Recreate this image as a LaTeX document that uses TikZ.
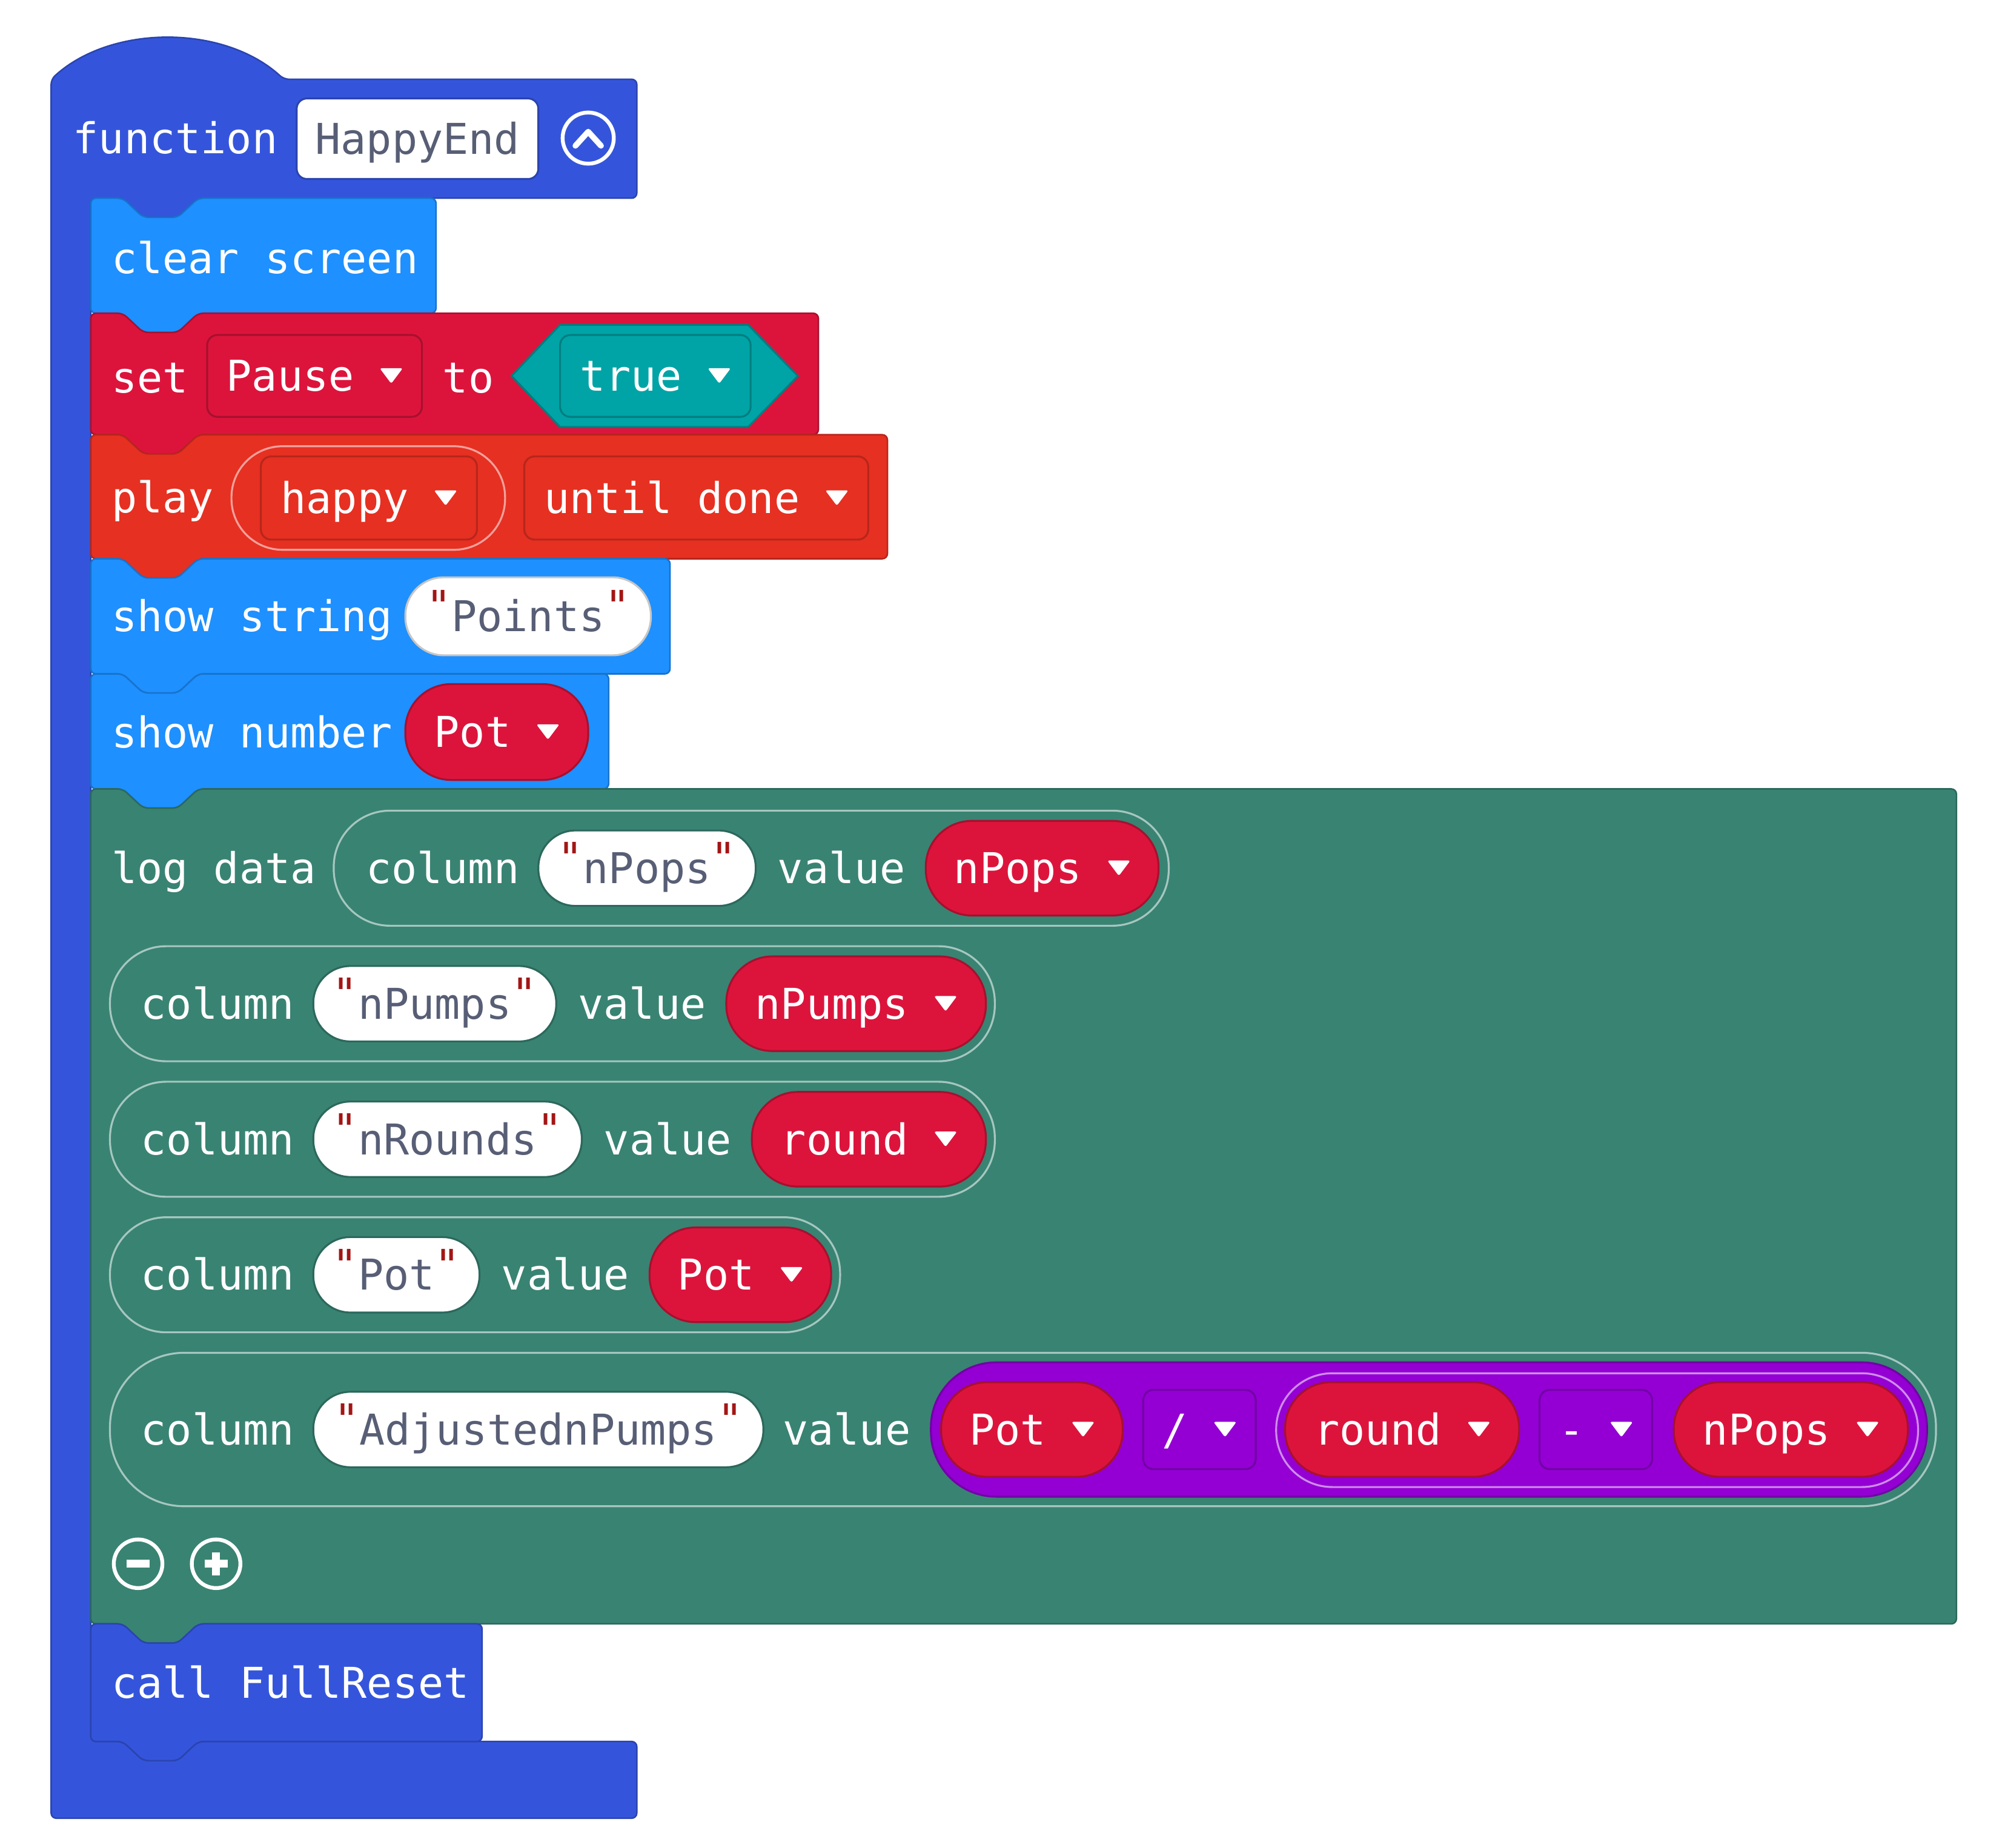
\documentclass[tikz,border=0pt]{standalone}
\usepackage{fontspec}
\usepackage{tikz}
\usepackage{xcolor}
\usetikzlibrary{positioning}

\newfontfamily\blockfont{DejaVu Sans Mono}

\definecolor{fnblue}{HTML}{3455DB}
\definecolor{fnblued}{HTML}{2A44AF}
\definecolor{basic}{HTML}{1E90FF}
\definecolor{basicd}{HTML}{1873CC}
\definecolor{varred}{HTML}{DC143C}
\definecolor{varredd}{HTML}{A8102E}
\definecolor{music}{HTML}{E63022}
\definecolor{musicd}{HTML}{B7261B}
\definecolor{logic}{HTML}{00A4A6}
\definecolor{logicd}{HTML}{007E80}
\definecolor{mathp}{HTML}{9400D3}
\definecolor{mathpd}{HTML}{7200A6}
\definecolor{logg}{HTML}{398373}
\definecolor{loggd}{HTML}{2C685C}
\definecolor{fieldgray}{HTML}{575E75}
\definecolor{quotered}{HTML}{A31515}
\definecolor{strborder}{HTML}{C6C6C6}

\newcommand{\ddarrow}{\tikz[baseline=0pt]\fill[white, rounded corners=1.5pt] (0pt,18pt) -- (18pt,18pt) -- (9pt,6pt) -- cycle;}
\newcommand{\strq}{\textcolor{quotered}{\raisebox{8pt}{"}}}
\newcommand{\stackblock}[4]{%
  \draw[#1] (71,#2) -- (96,#2) -- (112,{#2+15}) -- (139,{#2+15}) -- (155,#2) -- (#4,#2)
    -- (#4,#3) -- (155,#3) -- (139,{#3+15}) -- (112,{#3+15}) -- (96,#3) -- (71,#3) -- cycle;}

\begin{document}
\begin{tikzpicture}[x=1pt, y=-1pt,
  every node/.style={font=\blockfont\fontsize{33.2}{40}\selectfont},
  blk/.style={line width=1.2pt, rounded corners=4pt},
  lbl/.style={text=white, anchor=west, inner sep=0pt, text height=24pt, text depth=0pt},
  pill/.style={inner sep=0pt, text height=24pt, text depth=0pt, line width=1.5pt},
  varpill/.style={pill, fill=varred, draw=varredd, text=white, rounded corners=36pt, minimum height=74pt},
  strpill/.style={pill, fill=white, draw=loggd, text=fieldgray, rounded corners=29pt, minimum height=59pt},
  ddbox/.style={pill, text=white, rounded corners=8pt, minimum height=64pt},
  ring/.style={pill, draw=white, draw opacity=0.55, rounded corners=44pt, minimum height=90pt}]
  \useasboundingbox (0,0) rectangle (1568,1445);

  % function frame
  \draw[blk, fill=fnblue, draw=fnblued] (40,62) .. controls (87,19) and (175,19) .. (222,62) -- (498,62) -- (498,155)
    -- (155,155) -- (139,170) -- (112,170) -- (96,155) -- (71,155) -- (71,1362) -- (96,1362) -- (112,1377)
    -- (139,1377) -- (155,1362) -- (498,1362) -- (498,1422) -- (40,1422) -- cycle;

  % stacked blocks
  \stackblock{blk, fill=basic, draw=basicd}{155}{245}{341}
  \stackblock{blk, fill=varred, draw=varredd}{245}{340}{640}
  \stackblock{blk, fill=music, draw=musicd}{340}{437}{694}
  \stackblock{blk, fill=basic, draw=basicd}{437}{527}{524}
  \stackblock{blk, fill=basic, draw=basicd}{527}{617}{476}
  \stackblock{blk, fill=logg, draw=loggd}{617}{1270}{1530}
  \stackblock{blk, fill=fnblue, draw=fnblued}{1270}{1362}{377}

  % header
  \node[lbl] (fn) at (57,108) {function};
  \node[pill, fill=white, draw=fnblued, text=fieldgray, rounded corners=8pt, minimum width=189pt, minimum height=63pt] (name) at (326.5,108.5) {HappyEnd};
  \draw[white, line width=3pt] (460,108) circle (20pt);
  \draw[white, line width=4.5pt, line cap=round, line join=round] (450,114) -- (460,103) -- (470,114);

  \node[lbl] (clr) at (87,202) {clear screen};

  % set
  \node[lbl] (set) at (87,295) {set};
  \node[ddbox, fill=varred, draw=varredd, minimum width=168pt] (pause) at (246,294) {Pause \ddarrow};
  \node[lbl] (to) at (346,295) {to};
  \draw[fill=logic, draw=logicd, line width=1.5pt] (400,294) -- (438,254) -- (585,254) -- (624,294) -- (585,334) -- (438,334) -- cycle;
  \node[ddbox, fill=logic, draw=logicd, minimum width=149pt] (true) at (512.5,294) {true \ddarrow};

  % play
  \node[lbl] (play) at (87,389) {play};
  \node[ring, minimum width=214pt, minimum height=81pt, rounded corners=40pt] (snd) at (288,389.5) {};
  \node[ddbox, fill=music, draw=musicd, minimum width=169pt, minimum height=65pt] (happy) at (288.5,389.5) {happy \ddarrow};
  \node[ddbox, fill=music, draw=musicd, minimum width=269pt, minimum height=65pt] (until) at (544.5,389.5) {until done \ddarrow};

  % show string / number
  \node[lbl] (shs) at (87,482) {show string};
  \node[strpill, draw=strborder, minimum width=192pt, minimum height=61pt, rounded corners=30pt] (pts) at (413,482) {\strq Points\strq};
  \node[lbl] (shn) at (87,573) {show number};
  \node[varpill, minimum width=143pt, minimum height=75pt] (pot) at (388.5,572.5) {Pot \ddarrow};

  % log data
  \node[lbl] (log) at (87,679) {log data};
  \node[ring, minimum width=653pt] (r1) at (587.5,679) {};
  \node[lbl] (c1) at (286,679) {column};
  \node[strpill, minimum width=170pt] (s1) at (506,679) {\strq nPops\strq};
  \node[lbl] (v1) at (608,679) {value};
  \node[varpill, minimum width=182pt] (p1) at (815,679) {nPops \ddarrow};

  \node[ring, minimum width=692pt] (r2) at (432,785) {};
  \node[lbl] (c2) at (110,785) {column};
  \node[strpill, minimum width=190pt] (s2) at (340,785) {\strq nPumps\strq};
  \node[lbl] (v2) at (452,785) {value};
  \node[varpill, minimum width=203pt] (p2) at (669.5,785) {nPumps \ddarrow};

  \node[ring, minimum width=692pt] (r3) at (432,891) {};
  \node[lbl] (c3) at (110,891) {column};
  \node[strpill, minimum width=210pt] (s3) at (350,891) {\strq nRounds\strq};
  \node[lbl] (v3) at (472,891) {value};
  \node[varpill, minimum width=183pt] (p3) at (679.5,891) {round \ddarrow};

  \node[ring, minimum width=571pt] (r4) at (371.5,997) {};
  \node[lbl] (c4) at (110,997) {column};
  \node[strpill, minimum width=130pt] (s4) at (310,997) {\strq Pot\strq};
  \node[lbl] (v4) at (392,997) {value};
  \node[varpill, minimum width=142pt] (p4) at (579,997) {Pot \ddarrow};

  \node[ring, minimum width=1428pt, minimum height=120pt, rounded corners=58pt] (r5) at (800,1118) {};
  \node[lbl] (c5) at (110,1118) {column};
  \node[strpill, minimum width=352pt] (s5) at (421,1118) {\strq AdjustednPumps\strq};
  \node[lbl] (v5) at (612,1118) {value};
  \node[pill, fill=mathp, draw=mathpd, rounded corners=51pt, minimum width=779pt, minimum height=105pt] (div) at (1117.5,1118) {};
  \node[varpill, minimum width=142pt] (p5) at (807,1118) {Pot \ddarrow};
  \node[ddbox, fill=mathp, draw=mathpd, minimum width=88pt, minimum height=62pt] (op1) at (938,1118) {/ \ddarrow};
  \node[ring, minimum width=502pt, minimum height=89pt] (sub) at (1249,1118.5) {};
  \node[varpill, minimum width=183pt] (p6) at (1096.5,1118) {round \ddarrow};
  \node[ddbox, fill=mathp, draw=mathpd, minimum width=88pt, minimum height=62pt] (op2) at (1248,1118) {- \ddarrow};
  \node[varpill, minimum width=183pt] (p7) at (1400.5,1118) {nPops \ddarrow};

  % minus / plus
  \draw[white, line width=3pt] (108,1223) circle (19pt);
  \draw[white, line width=6pt] (99,1223) -- (117,1223);
  \draw[white, line width=3pt] (169,1223) circle (19pt);
  \draw[white, line width=6pt] (160,1223) -- (178,1223) (169,1214) -- (169,1232);

  \node[lbl] (call) at (87,1316) {call FullReset};
\end{tikzpicture}
\end{document}
